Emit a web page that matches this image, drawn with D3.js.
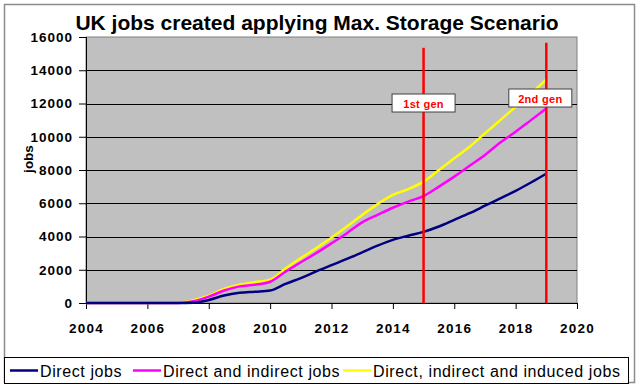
<!DOCTYPE html>
<html>
<head>
<meta charset="utf-8">
<script src="https://cdn.jsdelivr.net/npm/d3@7"></script>
<style>
  body { margin: 0; background: white; }
  svg text { font-family: Arial, "Liberation Sans", sans-serif; }
</style>
</head>
<body>
<div id="chart"></div>
<script>
const years = [2004, 2005, 2006, 2007, 2007.5, 2008, 2008.5, 2009, 2009.5, 2010, 2010.5, 2011, 2011.5, 2012, 2012.5, 2013, 2013.5, 2014, 2014.5, 2015, 2015.5, 2016, 2016.5, 2017, 2017.5, 2018, 2018.5, 2019]
const directJobs = [0, 0, 0, 0, 20, 180, 450, 610, 680, 750, 1150, 1500, 1900, 2280, 2650, 3050, 3450, 3800, 4050, 4280, 4600, 5000, 5400, 5850, 6300, 6750, 7250, 7780]
const indirectJobs = [0, 0, 0, 0, 100, 380, 750, 1000, 1100, 1280, 1880, 2450, 3000, 3590, 4200, 4850, 5300, 5730, 6100, 6430, 7000, 7600, 8250, 8900, 9650, 10300, 11000, 11700]
const inducedJobs = [0, 0, 0, 10, 170, 440, 850, 1100, 1250, 1400, 2080, 2700, 3300, 3930, 4600, 5300, 5950, 6500, 6850, 7300, 8000, 8700, 9400, 10200, 11000, 11800, 12600, 13450]

const seriesNames = ["Direct jobs", "Direct and indirect jobs", "Direct, indirect and induced jobs"]
const seriesColors = ["#000080", "#ff00ff", "#ffff00"]

const xTicks = [2004, 2006, 2008, 2010, 2012, 2014, 2016, 2018, 2020]
const yTicks = [0, 2000, 4000, 6000, 8000, 10000, 12000, 14000, 16000]

const milestoneYears = [2015, 2019]
const milestoneTops = [15350, 15650]
const milestoneLabels = ["1st gen", "2nd gen"]
const milestoneLabelValues = [12000, 12300]

const width = 642;
const height = 389;
const plot = {left: 86, right: 577, top: 37, bottom: 303}

const svg = d3.select("#chart")
              .append("svg")
              .attr("width", width)
              .attr("height", height)

// outer frame
svg.append("rect")
   .attr("x", 4.5).attr("y", 4.5)
   .attr("width", 630).attr("height", 378)
   .attr("fill", "white")
   .attr("stroke", "#8c8c8c")
   .attr("stroke-width", 1.5)

svg.append("text")
   .attr("x", 317)
   .attr("y", 30)
   .attr("text-anchor", "middle")
   .attr("font-size", 21)
   .attr("font-weight", "bold")
   .text("UK jobs created applying Max. Storage Scenario")

const x = d3.scaleLinear().domain([2004, 2020]).range([plot.left, plot.right])
const y = d3.scaleLinear().domain([0, 16000]).range([plot.bottom, plot.top])

svg.append("rect")
   .attr("x", plot.left).attr("y", plot.top)
   .attr("width", plot.right - plot.left)
   .attr("height", plot.bottom - plot.top)
   .attr("fill", "#c0c0c0")
   .attr("stroke", "#808080")

svg.append("g")
   .selectAll("line")
   .data(yTicks.slice(1, -1))
   .enter()
   .append("line")
   .attr("x1", plot.left).attr("x2", plot.right)
   .attr("y1", d => Math.round(y(d)) + 0.5)
   .attr("y2", d => Math.round(y(d)) + 0.5)
   .attr("stroke", "#000")

const yAxis = d3.axisLeft(y).tickValues(yTicks).tickSize(7).tickPadding(6).tickFormat(d3.format("d"))
svg.append("g")
   .attr("transform", `translate(${plot.left},0)`)
   .call(yAxis)
   .call(g => g.select(".domain").attr("stroke", "#000"))
   .selectAll("text")
   .attr("font-size", 13.5)
   .attr("font-weight", "bold")
   .attr("letter-spacing", 1)
   .attr("fill", "#000")

const xAxis = d3.axisBottom(x).tickValues(xTicks).tickSize(6).tickPadding(14).tickFormat(d3.format("d"))
svg.append("g")
   .attr("transform", `translate(0,${plot.bottom})`)
   .call(xAxis)
   .call(g => g.select(".domain").attr("stroke", "#000"))
   .selectAll("text")
   .attr("font-size", 13.5)
   .attr("font-weight", "bold")
   .attr("letter-spacing", 1.2)
   .attr("fill", "#000")

svg.append("text")
   .attr("transform", "translate(33,159) rotate(-90)")
   .attr("text-anchor", "middle")
   .attr("font-size", 13.5)
   .attr("font-weight", "bold")
   .text("jobs")

const line = d3.line()
               .x((d, i) => x(years[i]))
               .y(d => y(d))
               .curve(d3.curveMonotoneX)

svg.append("g")
   .selectAll("path")
   .data([directJobs, indirectJobs, inducedJobs].reverse())
   .enter()
   .append("path")
   .attr("d", line)
   .attr("fill", "none")
   .attr("stroke", (d, i) => seriesColors.slice().reverse()[i])
   .attr("stroke-width", 2.5)

svg.append("g")
   .selectAll("line")
   .data(milestoneYears)
   .enter()
   .append("line")
   .attr("x1", d => x(d)).attr("x2", d => x(d))
   .attr("y1", (d, i) => y(milestoneTops[i]))
   .attr("y2", plot.bottom)
   .attr("stroke", "#ff0000")
   .attr("stroke-width", 2.5)

const labels = svg.append("g")
                  .selectAll("g")
                  .data(milestoneLabels)
                  .enter()
                  .append("g")
                  .attr("transform", (d, i) => `translate(${x(milestoneYears[i]) - (i ? 6 : 0)},${y(milestoneLabelValues[i])})`)

labels.append("rect")
      .attr("x", -31.5).attr("y", -9.5)
      .attr("width", 63).attr("height", 18)
      .attr("fill", "white")
      .attr("stroke", "#404040")

labels.append("text")
      .attr("text-anchor", "middle")
      .attr("y", 4)
      .attr("font-size", 11)
      .attr("font-weight", "bold")
      .attr("letter-spacing", 0.3)
      .attr("fill", "#ff0000")
      .text(d => d)

// legend
const legend = svg.append("g")

legend.append("rect")
      .attr("x", 4.5).attr("y", 357.5)
      .attr("width", 624).attr("height", 26)
      .attr("fill", "white")
      .attr("stroke", "#000")

const legendX = [10, 133, 343]
const items = legend.selectAll("g")
                    .data(seriesNames)
                    .enter()
                    .append("g")
                    .attr("transform", (d, i) => `translate(${legendX[i]},370.5)`)

items.append("line")
     .attr("x1", 0).attr("x2", 28)
     .attr("stroke", (d, i) => seriesColors[i])
     .attr("stroke-width", 2.5)

items.append("text")
     .attr("x", 30)
     .attr("y", 6)
     .attr("font-size", 16)
     .attr("letter-spacing", 0.6)
     .text(d => d)
</script>
</body>
</html>
